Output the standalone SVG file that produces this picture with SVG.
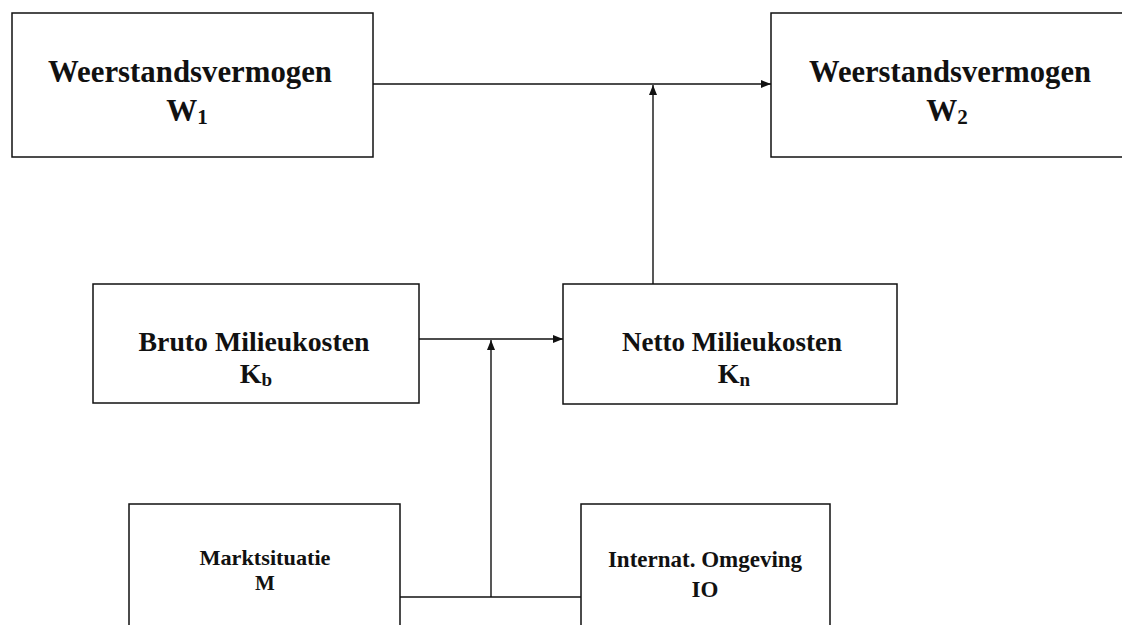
<svg xmlns="http://www.w3.org/2000/svg" width="1122" height="625" viewBox="0 0 1122 625">
<style>
.box{fill:#fff;stroke:#111;stroke-width:1.5}
.t{font-family:"Liberation Serif","Times New Roman",serif;font-weight:bold;fill:#111;text-anchor:middle}
.big{font-size:31px}
.mid{font-size:28px}
.sm{font-size:21px}
.io{font-size:23px}
.sub{font-size:0.68em}
.c{stroke:#111;stroke-width:1.4;fill:none}
</style>
<defs>
<marker id="ah" viewBox="0 0 10 8" refX="10" refY="4" markerWidth="10" markerHeight="8" markerUnits="userSpaceOnUse" orient="auto">
<path d="M0,0 L10,4 L0,8 Z" fill="#111"/>
</marker>
</defs>
<rect width="1122" height="625" fill="#fff"/>
<g id="w1">
<rect class="box" x="12" y="13" width="361" height="144"/>
<text class="t big" x="190" y="82" textLength="284" lengthAdjust="spacingAndGlyphs">Weerstandsvermogen</text>
<text class="t big" x="187" y="121">W<tspan class="sub" dy="3">1</tspan></text>
</g>
<g id="w2">
<rect class="box" x="771" y="13" width="361" height="144"/>
<text class="t big" x="950" y="82" textLength="282" lengthAdjust="spacingAndGlyphs">Weerstandsvermogen</text>
<text class="t big" x="947" y="121">W<tspan class="sub" dy="3">2</tspan></text>
</g>
<g id="bruto">
<rect class="box" x="93" y="284" width="326" height="119"/>
<text class="t mid" x="254" y="351" textLength="231" lengthAdjust="spacingAndGlyphs">Bruto Milieukosten</text>
<text class="t mid" x="256" y="383">K<tspan class="sub" dy="3">b</tspan></text>
</g>
<g id="netto">
<rect class="box" x="563" y="284" width="334" height="120"/>
<text class="t mid" x="732" y="351" textLength="220" lengthAdjust="spacingAndGlyphs">Netto Milieukosten</text>
<text class="t mid" x="734" y="383">K<tspan class="sub" dy="3">n</tspan></text>
</g>
<g id="markt">
<rect class="box" x="129" y="504" width="271" height="140"/>
<text class="t sm" x="265" y="565" textLength="131" lengthAdjust="spacingAndGlyphs">Marktsituatie</text>
<text class="t sm" x="265" y="590">M</text>
</g>
<g id="io">
<rect class="box" x="581" y="504" width="249" height="140"/>
<text class="t io" x="705" y="567">Internat. Omgeving</text>
<text class="t io" x="705" y="597">IO</text>
</g>
<g id="connectors">
<line class="c" x1="373" y1="84" x2="771" y2="84" marker-end="url(#ah)"/>
<line class="c" x1="653" y1="284" x2="653" y2="85" marker-end="url(#ah)"/>
<line class="c" x1="419" y1="339" x2="563" y2="339" marker-end="url(#ah)"/>
<line class="c" x1="400" y1="597" x2="581" y2="597"/>
<line class="c" x1="491" y1="597" x2="491" y2="340" marker-end="url(#ah)"/>
</g>
</svg>
